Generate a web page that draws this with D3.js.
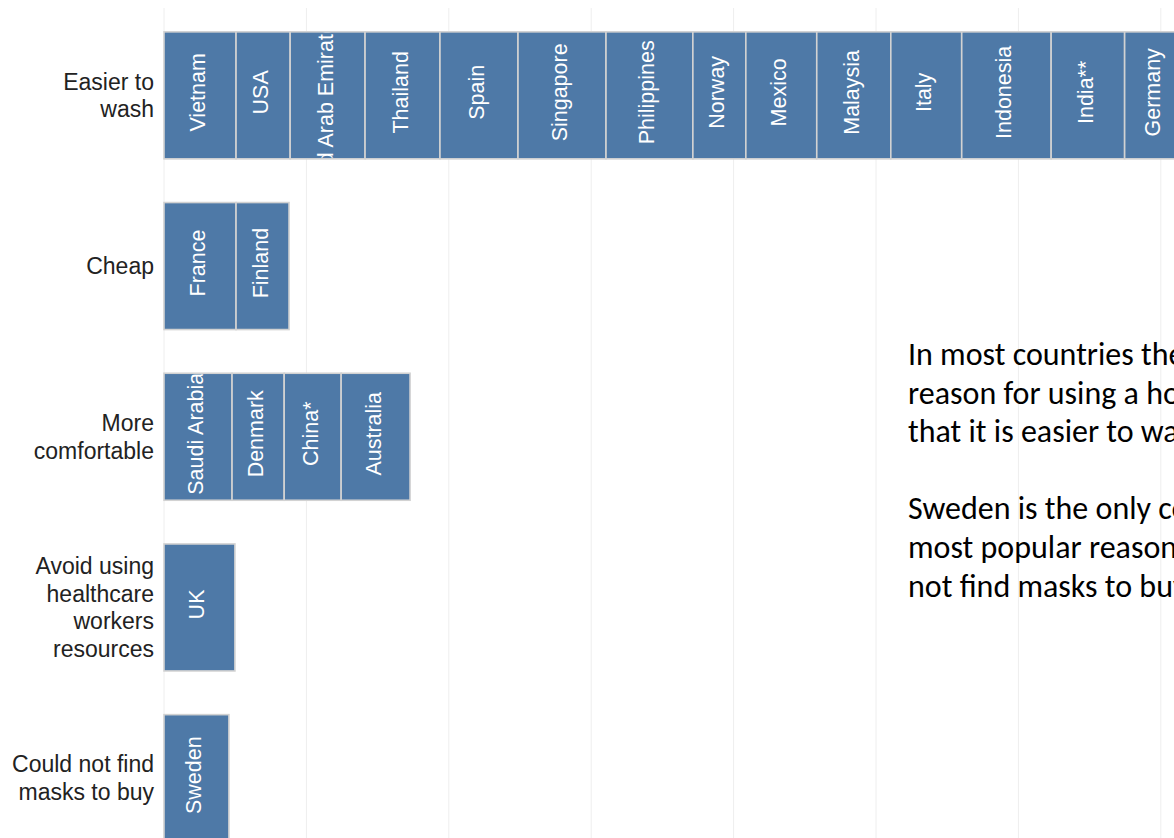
<!DOCTYPE html>
<html><head><meta charset="utf-8">
<script src="https://cdn.jsdelivr.net/npm/d3@7/dist/d3.min.js"></script>
<style>
html,body{margin:0;padding:0;background:#fff;overflow:hidden;}
svg{display:block;}
</style></head>
<body>
<svg id="chart" width="1174" height="838"></svg>
<script>
// ---- data ----
const reasons = ["Easier to wash", "Cheap", "More comfortable", "Avoid using healthcare workers resources", "Could not find masks to buy"];
const reasonLines = [["Easier to", "wash"], ["Cheap"], ["More", "comfortable"], ["Avoid using", "healthcare", "workers", "resources"], ["Could not find", "masks to buy"]];
const easierCountries = ["Vietnam", "USA", "United Arab Emirates", "Thailand", "Spain", "Singapore", "Philippines", "Norway", "Mexico", "Malaysia", "Italy", "Indonesia", "India**", "Germany"];
const easierValues = [25.3, 19.0, 26.3, 26.3, 27.4, 30.9, 30.5, 18.6, 24.9, 26.0, 24.9, 31.4, 25.8, 21.0];
const cheapCountries = ["France", "Finland"];
const cheapValues = [25.3, 18.6];
const comfortCountries = ["Saudi Arabia", "Denmark", "China*", "Australia"];
const comfortValues = [23.9, 18.3, 20.0, 24.2];
const avoidCountries = ["UK"];
const avoidValues = [24.9];
const couldNotCountries = ["Sweden"];
const couldNotValues = [22.8];
const gridTicks = [0, 50, 100, 150, 200, 250, 300, 350];
const noteLines = [
  "In most countries the most popular",
  "reason for using a homemade mask is",
  "that it is easier to wash.",
  "",
  "Sweden is the only country where the",
  "most popular reason is that they could",
  "not find masks to buy."
];

// ---- build segments ----
const groups = [
  [easierCountries, easierValues],
  [cheapCountries, cheapValues],
  [comfortCountries, comfortValues],
  [avoidCountries, avoidValues],
  [couldNotCountries, couldNotValues]
];
const segments = [];
groups.forEach(([cs, vs], gi) => {
  let acc = 0;
  cs.forEach((c, i) => {
    segments.push({reason: reasons[gi], country: c, x0: acc, x1: acc + vs[i]});
    acc += vs[i];
  });
});

const svg = d3.select("#chart");
const W = 1174, H = 838;

const x = d3.scaleLinear().domain([0, 50]).range([164, 306.4]);
const y = d3.scaleBand().domain(reasons).range([10, 863.5]).paddingInner(0.256).paddingOuter(0.128);

// gridlines
svg.append("g").selectAll("line").data(gridTicks).join("line")
  .attr("x1", d => x(d)).attr("x2", d => x(d))
  .attr("y1", 8).attr("y2", H)
  .attr("stroke", "#eeeeee").attr("stroke-width", 1);

// row labels
const lineH = 27.5;
const rl = svg.append("g");
reasons.forEach((r, i) => {
  const lines = reasonLines[i];
  const cy = y(r) + y.bandwidth() / 2;
  const t = rl.append("text")
    .attr("text-anchor", "end")
    .attr("font-family", "'Liberation Sans', Arial, sans-serif")
    .attr("font-size", 23)
    .attr("fill", "#222");
  lines.forEach((ln, k) => {
    t.append("tspan").attr("x", 154)
      .attr("y", cy + (k - (lines.length - 1) / 2) * lineH + 8)
      .text(ln);
  });
});

// bars
const defs = svg.append("defs");
const bars = svg.append("g");
const fontSize = 21.5;
segments.forEach((s, i) => {
  const bx = x(s.x0), bw = x(s.x1) - x(s.x0);
  const by = y(s.reason), bh = y.bandwidth();
  bars.append("rect")
    .attr("x", bx).attr("y", by).attr("width", bw).attr("height", bh)
    .attr("fill", "#4e79a7").attr("stroke", "#d2d2d2").attr("stroke-width", 1.6);
  const cid = "clip" + i;
  defs.append("clipPath").attr("id", cid).append("rect")
    .attr("x", bx + 1).attr("y", by + 1).attr("width", bw - 2).attr("height", bh - 2);
  const g = bars.append("g").attr("clip-path", `url(#${cid})`);
  const t = g.append("text")
    .attr("font-family", "'Liberation Sans', Arial, sans-serif")
    .attr("font-size", fontSize)
    .attr("fill", "#fff")
    .attr("text-anchor", "middle")
    .text(s.country);
  const len = t.node().getComputedTextLength();
  let cy = by + bh / 2 - 3;
  if (len > bh) cy += (len - bh) * 0.27;
  const cx = bx + bw / 2 + 5;
  t.attr("transform", `translate(${cx},${cy}) rotate(-90)`);
});

// annotation
const note = svg.append("text")
  .attr("font-family", "Carlito, Calibri, Lato, sans-serif")
  .attr("font-size", 32)
  .attr("fill", "#000");
noteLines.forEach((ln, k) => {
  note.append("tspan").attr("x", 908).attr("y", 365 + k * 38.6).text(ln);
});
</script>
</body></html>
